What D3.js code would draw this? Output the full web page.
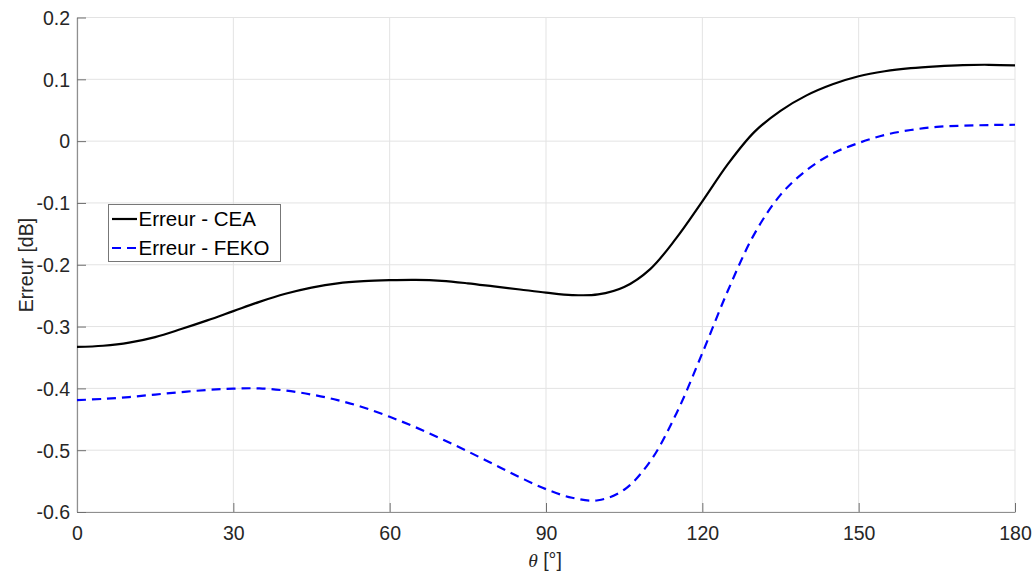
<!DOCTYPE html>
<html>
<head>
<meta charset="utf-8">
<script src="https://cdn.jsdelivr.net/npm/d3@7"></script>
<style>
  html, body { margin: 0; padding: 0; background: #fff; }
  svg { display: block; font-family: Arial, "Liberation Sans", Helvetica, sans-serif; }
</style>
</head>
<body>
<svg id="chart" width="1034" height="575"></svg>
<script>
// ---- data ----
const theta = [0,5,10,15,20,25,30,35,40,45,50,55,60,65,70,75,80,85,90,95,100,105,110,115,120,125,130,135,140,145,150,155,160,165,170,175,180];
const errCEA = [-0.333,-0.331,-0.326,-0.317,-0.304,-0.290,-0.275,-0.260,-0.247,-0.237,-0.230,-0.2265,-0.225,-0.2245,-0.226,-0.230,-0.235,-0.240,-0.245,-0.249,-0.248,-0.236,-0.207,-0.157,-0.0975,-0.036,0.015,0.049,0.074,0.092,0.105,0.113,0.118,0.121,0.123,0.1235,0.1225];
const errFEKO = [-0.419,-0.417,-0.414,-0.410,-0.406,-0.4025,-0.4005,-0.400,-0.4035,-0.410,-0.419,-0.431,-0.446,-0.463,-0.482,-0.502,-0.523,-0.544,-0.563,-0.577,-0.581,-0.564,-0.518,-0.441,-0.343,-0.240,-0.150,-0.087,-0.047,-0.020,-0.003,0.010,0.018,0.023,0.025,0.026,0.0265];
const xTicks = [0,30,60,90,120,150,180];
const yTicks = [-0.6,-0.5,-0.4,-0.3,-0.2,-0.1,0,0.1,0.2];
const yTickLabels = ["-0.6","-0.5","-0.4","-0.3","-0.2","-0.1","0","0.1","0.2"];
const seriesNames = ["Erreur - CEA", "Erreur - FEKO"];
const xLabel = "[°]";
const yLabel = "Erreur [dB]";

// ---- layout ----
const svg = d3.select("#chart");
const L = 77, R = 1015, T = 17.5, B = 512;
const FS = "19.5px";
const x = d3.scaleLinear().domain([0, 180]).range([L, R]);
const y = d3.scaleLinear().domain([-0.6, 0.2]).range([B, T]);

const grid = svg.append("g");
xTicks.forEach(t => {
  grid.append("line").attr("x1", x(t)).attr("x2", x(t)).attr("y1", T).attr("y2", B)
    .attr("stroke", "#e3e3e3").attr("stroke-width", 1);
});
yTicks.forEach(t => {
  grid.append("line").attr("x1", L).attr("x2", R).attr("y1", y(t)).attr("y2", y(t))
    .attr("stroke", "#e3e3e3").attr("stroke-width", 1);
});

// axes
const xAxis = d3.axisBottom(x).tickValues(xTicks).tickSizeInner(-9).tickSizeOuter(0).tickPadding(14)
  .tickFormat(d3.format("d"));
const yAxis = d3.axisLeft(y).tickValues(yTicks).tickSizeInner(-9).tickSizeOuter(0).tickPadding(7)
  .tickFormat((d, i) => yTickLabels[i]);

const gx = svg.append("g").attr("transform", `translate(0,${B})`).call(xAxis);
const gy = svg.append("g").attr("transform", `translate(${L},0)`).call(yAxis);
[gx, gy].forEach(g => {
  g.attr("font-size", null).attr("font-family", null);
  g.select(".domain").attr("stroke", "#8f8f8f").attr("stroke-width", 1.2);
  g.selectAll(".tick line").attr("stroke", "#6f6f6f").attr("stroke-width", 1);
  g.selectAll(".tick text").attr("fill", "#262626").style("font-size", FS);
});
gy.selectAll(".tick text").attr("dy", "0.35em");

// lines
const lineGen = d3.line().x((d, i) => x(theta[i])).y(d => y(d)).curve(d3.curveCatmullRom.alpha(0.5));
svg.append("path").datum(errFEKO).attr("d", lineGen).attr("fill", "none")
  .attr("stroke", "#0000ff").attr("stroke-width", 2.2).attr("stroke-dasharray", "9,6");
svg.append("path").datum(errCEA).attr("d", lineGen).attr("fill", "none")
  .attr("stroke", "#000").attr("stroke-width", 2.2);

// axis labels
const xl = svg.append("text").attr("x", 545).attr("y", 566.5).attr("text-anchor", "middle")
  .attr("fill", "#262626").style("font-size", FS);
xl.append("tspan").attr("font-family", "'Liberation Serif', 'DejaVu Serif', serif").attr("font-style", "italic").text("θ");
xl.append("tspan").text(" " + xLabel);

svg.append("text").attr("transform", `translate(33,265) rotate(-90)`)
  .attr("text-anchor", "middle")
  .attr("fill", "#262626").style("font-size", FS).text(yLabel);

// legend
const lg = svg.append("g");
lg.append("rect").attr("x", 108.5).attr("y", 204.5).attr("width", 172).attr("height", 57)
  .attr("fill", "#fff").attr("stroke", "#777").attr("stroke-width", 1);
const legY = [219, 248];
const legStyles = [{c: "#000", d: null}, {c: "#0000ff", d: "9,6"}];
seriesNames.forEach((name, i) => {
  const ln = lg.append("line").attr("x1", 112).attr("x2", 137).attr("y1", legY[i]).attr("y2", legY[i])
    .attr("stroke", legStyles[i].c).attr("stroke-width", 2.2);
  if (legStyles[i].d) ln.attr("stroke-dasharray", legStyles[i].d);
  lg.append("text").attr("x", 138.5).attr("y", legY[i]).attr("dy", "0.35em")
    .attr("fill", "#000").style("font-size", "20.5px").text(name);
});
</script>
</body>
</html>
